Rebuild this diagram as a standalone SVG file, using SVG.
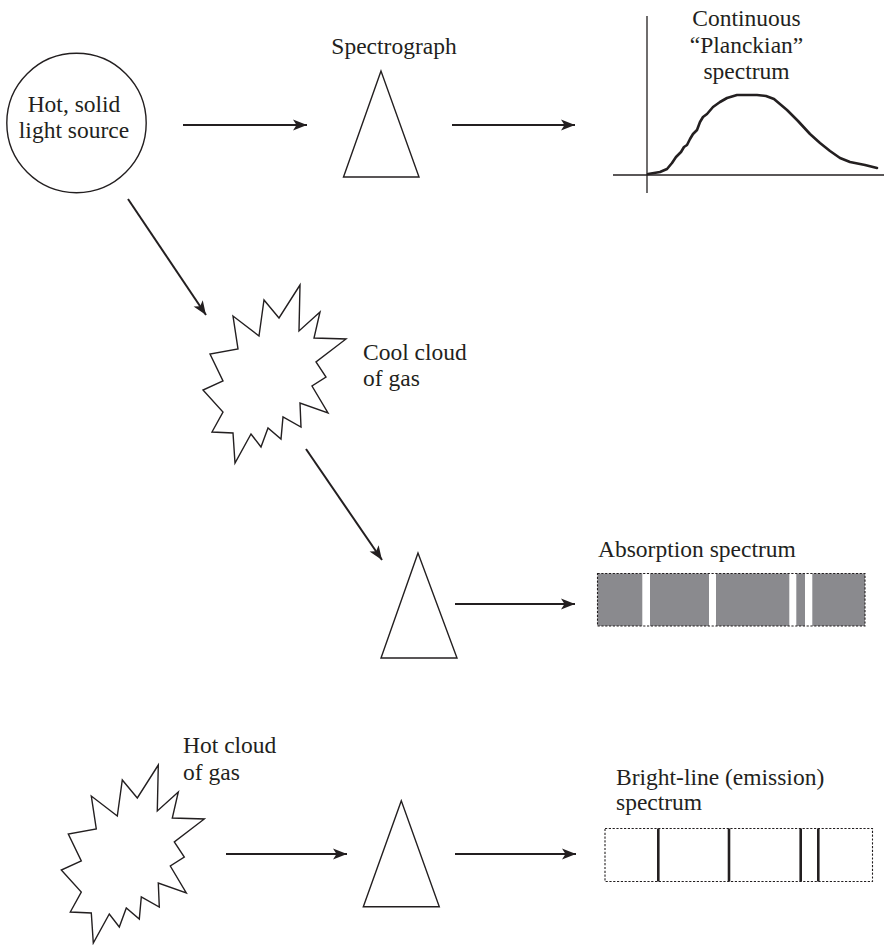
<svg xmlns="http://www.w3.org/2000/svg" xmlns:xlink="http://www.w3.org/1999/xlink" width="884" height="945" viewBox="0 0 884 945">
<style>
text{font-family:"Liberation Serif","Times New Roman",serif;font-size:23.5px;fill:#231f20}
.shape{fill:#fff;stroke:#231f20;stroke-width:1.4;stroke-linejoin:miter}
.conn{stroke:#231f20;stroke-width:2;fill:none}
.axis{stroke:#231f20;stroke-width:1.3;fill:none}
.dotbox{stroke:#231f20;stroke-width:1.1;stroke-dasharray:2.2,1.6}
.gray{fill:#8a8a8e}
.eline{stroke:#231f20;stroke-width:2.6}
</style>
<defs>
<marker id="ah" markerUnits="userSpaceOnUse" markerWidth="16" markerHeight="14" viewBox="-15 -7 16 14" refX="0" refY="0" orient="auto">
<path d="M0,0 L-14,-5.5 L-10.5,0 L-14,5.5 Z" fill="#231f20"/>
</marker>
<polygon id="star" points="300,285 279,318 264,300 259,336 233,316 238,349 210,354 223,381 203,390 223,412 212,432 233,433 235,463 251,434 261,447 268,428 281,439 283,417 301,427 300,403 328,413 312,386 326,377 316,362 346,339 314,338 320,312 299,331"/>
</defs>

<g id="connectors">
<line class="conn" x1="183" y1="125" x2="307" y2="125" marker-end="url(#ah)"/>
<line class="conn" x1="452" y1="125" x2="575" y2="125" marker-end="url(#ah)"/>
<line class="conn" x1="128" y1="199" x2="206" y2="315" marker-end="url(#ah)"/>
<line class="conn" x1="306" y1="449" x2="382" y2="560" marker-end="url(#ah)"/>
<line class="conn" x1="455" y1="604" x2="575" y2="604" marker-end="url(#ah)"/>
<line class="conn" x1="226" y1="854" x2="347" y2="854" marker-end="url(#ah)"/>
<line class="conn" x1="455" y1="854" x2="576" y2="854" marker-end="url(#ah)"/>
</g>

<g id="hot-solid-source">
<circle class="shape" cx="76.5" cy="123" r="69.7"/>
<text x="74" y="112" text-anchor="middle">Hot, solid</text>
<text x="74" y="138" text-anchor="middle">light source</text>
</g>

<g id="spectrograph-1">
<polygon class="shape" points="381,71 343.5,177 419,177"/>
<text x="394" y="54" text-anchor="middle">Spectrograph</text>
</g>

<g id="planck-spectrum">
<line class="axis" x1="647" y1="16" x2="647" y2="193"/>
<line class="axis" x1="613" y1="175" x2="884" y2="175"/>
<path d="M648,174 L660,172 L667,169 L672,163 L676,157 L681,152 L684,147 L687,145 L690,139 L693,134 L697,130 L700,122 L703,117 L707,114 L713,107 L720,102 L727,98 L737,95 L748,95 L757,95 L766,96 L774,99 L787,110 L798,121 L810,134 L820,143 L830,151 L840,158 L850,162 L865,165 L877,168" fill="none" stroke="#231f20" stroke-width="2.6" stroke-linejoin="round" stroke-linecap="round"/>
<text x="746.5" y="26" text-anchor="middle">Continuous</text>
<text x="746.5" y="53" text-anchor="middle">“Planckian”</text>
<text x="746.5" y="79" text-anchor="middle">spectrum</text>
</g>

<g id="cool-cloud">
<use xlink:href="#star" class="shape"/>
<text x="363" y="360">Cool cloud</text>
<text x="363" y="386">of gas</text>
</g>

<g id="spectrograph-2">
<polygon class="shape" points="418,553 381,658 457,658"/>
</g>

<g id="absorption-spectrum">
<rect class="gray" x="597.5" y="573.5" width="267.5" height="52.5"/>
<rect fill="#fff" x="642.3" y="573" width="7.7" height="53.5"/>
<rect fill="#fff" x="709" y="573" width="7" height="53.5"/>
<rect fill="#fff" x="789.3" y="573" width="7" height="53.5"/>
<rect fill="#fff" x="805" y="573" width="7.3" height="53.5"/>
<rect class="dotbox" fill="none" x="597.5" y="573.5" width="267.5" height="52.5"/>
<text x="598" y="557">Absorption spectrum</text>
</g>

<g id="hot-cloud">
<use xlink:href="#star" class="shape" transform="translate(-141.7,480)"/>
<text x="183" y="753">Hot cloud</text>
<text x="183" y="780">of gas</text>
</g>

<g id="spectrograph-3">
<polygon class="shape" points="401.3,800.7 363.3,906.7 439.3,906.7"/>
</g>

<g id="emission-spectrum">
<rect class="dotbox" fill="#fff" x="605" y="828.5" width="267.5" height="53"/>
<line class="eline" x1="658.3" y1="828.5" x2="658.3" y2="881.5"/>
<line class="eline" x1="729" y1="828.5" x2="729" y2="881.5"/>
<line class="eline" x1="800.7" y1="828.5" x2="800.7" y2="881.5"/>
<line class="eline" x1="818.3" y1="828.5" x2="818.3" y2="881.5"/>
<text x="616" y="785">Bright-line (emission)</text>
<text x="616" y="810">spectrum</text>
</g>
</svg>
